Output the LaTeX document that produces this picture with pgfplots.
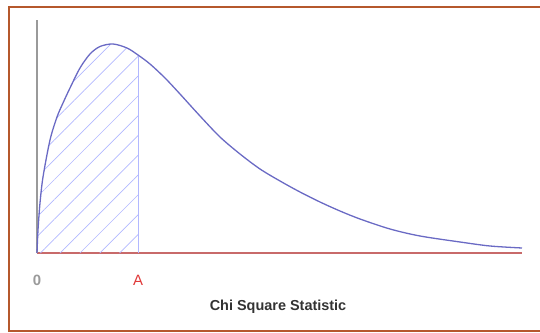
\documentclass[border=0pt]{standalone}
\usepackage{fontspec}
\setmainfont{Liberation Sans}
\setsansfont{Liberation Sans}
\usepackage{pgfplots}
\usepackage{pgfplotstable}
\pgfplotsset{compat=1.18}
\usetikzlibrary{patterns.meta}
\definecolor{curvecol}{HTML}{6A6AC4}
\definecolor{hatchcol}{HTML}{B2B8FF}
\definecolor{basecol}{HTML}{C86A6A}
\definecolor{framecol}{HTML}{B5582C}
\definecolor{axgray}{HTML}{9A9A9A}
\definecolor{labred}{HTML}{E03A3A}

% chi square density (x = statistic, y = height)
\pgfplotstableread{
x y
0 0
0.025 23
0.075 50
0.15 76
0.325 113
0.5 136
0.65 150
0.825 165
1.075 185
1.325 199
1.575 206.5
1.9 209
2.25 205
2.525 198
2.825 189
3.2 175
3.575 159
4.075 137
4.575 116
5.075 99
5.575 84
6.075 72
6.575 61
7.075 51
7.575 42
8.075 34
8.825 24
9.575 17
10.575 11
11.325 7
12.125 5
}\chisq

\begin{document}
\begin{tikzpicture}
\useasboundingbox (-37bp,-80bp) rectangle (503bp,253bp);
\draw[framecol, line width=1.8bp] (-28bp,246bp) rectangle (510bp,-78bp);
\begin{axis}[
  scale only axis, width=485bp, height=233bp,
  xmin=0, xmax=12.125, ymin=0, ymax=233,
  axis lines=left, axis line style={-},
  x axis line style={draw=basecol, line width=1.2bp},
  y axis line style={draw=axgray, line width=1.8bp},
  ytick=\empty, major tick length=0pt,
  xtick={0,2.525},
  xticklabels={{\color{axgray}\bfseries 0},{\color{labred}A}},
  xticklabel style={font=\fontsize{15}{15}\selectfont, anchor=center, yshift=-27bp},
  xlabel={\bfseries Chi Square Statistic},
  xlabel style={font=\fontsize{14.5}{15}\selectfont, at={(axis description cs:0.497,0)}, anchor=center, yshift=-54bp, text=black!80},
  clip=false,
]
\addplot[draw=none, pattern={Lines[angle=45, distance=14bp, line width=0.7bp]}, pattern color=hatchcol,
  restrict x to domain=0:2.525] table[x=x, y=y] {\chisq} \closedcycle;
\addplot[hatchcol, line width=1bp] coordinates {(2.525,0) (2.525,198)};
\addplot[curvecol, line width=1.3bp, smooth] table[x=x, y=y] {\chisq};
\end{axis}
\end{tikzpicture}
\end{document}
